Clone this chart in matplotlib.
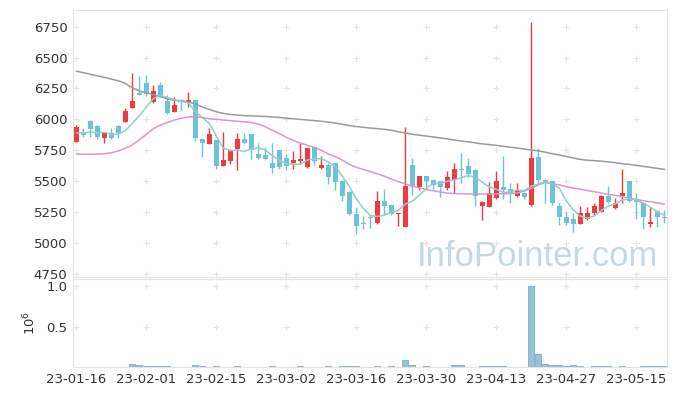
import matplotlib

matplotlib.use("Agg")
import matplotlib.pyplot as plt  # noqa: E402
import numpy as np  # noqa: E402
import pandas as pd  # noqa: E402

# ---- data (daily candles, 23-01-16 .. 23-05-19) ----
opens = [5820, 5890, 5990, 5945, 5852, 5892, 5946, 5981, 6095, 6211,
         6292, 6143, 6278, 6150, 6062, 6160, 6143, 6157, 5841, 5801,
         5830, 5623, 5663, 5760, 5839, 5882, 5718, 5712, 5650, 5752,
         5685, 5645, 5666, 5617, 5774, 5604, 5631, 5645, 5504, 5415,
         5235, 5160, 5210, 5159, 5340, 5307, 5232, 5132, 5631, 5455,
         5542, 5510, 5500, 5447, 5510, 5600, 5623, 5590, 5302, 5294,
         5361, 5451, 5434, 5380, 5407, 5305, 5698, 5510, 5502, 5299,
         5208, 5192, 5151, 5192, 5240, 5253, 5380, 5281, 5383, 5502,
         5353, 5326, 5151, 5261, 5213]
highs = [5955, 5930, 5995, 5955, 5900, 5928, 5955, 6090, 6373, 6350,
         6360, 6278, 6300, 6195, 6180, 6165, 6225, 6160, 5845, 5930,
         5835, 5900, 5760, 5887, 5887, 5885, 5807, 5780, 5807, 5755,
         5720, 5747, 5807, 5770, 5780, 5700, 5650, 5650, 5510, 5420,
         5290, 5220, 5225, 5423, 5434, 5310, 5245, 5941, 5685, 5545,
         5545, 5515, 5505, 5580, 5645, 5726, 5685, 5595, 5340, 5496,
         5585, 5704, 5483, 5488, 5410, 6785, 5766, 5515, 5505, 5326,
         5253, 5240, 5299, 5294, 5326, 5385, 5461, 5361, 5596, 5505,
         5407, 5330, 5294, 5265, 5267]
lows = [5815, 5860, 5860, 5840, 5806, 5845, 5847, 5975, 6090, 6195,
        6189, 6135, 6180, 6045, 6057, 6080, 6103, 5825, 5693, 5800,
        5596, 5620, 5640, 5590, 5800, 5677, 5677, 5670, 5564, 5600,
        5590, 5596, 5640, 5610, 5631, 5595, 5480, 5430, 5340, 5230,
        5070, 5115, 5120, 5154, 5226, 5225, 5138, 5127, 5390, 5430,
        5434, 5440, 5375, 5430, 5407, 5483, 5536, 5300, 5186, 5290,
        5355, 5353, 5326, 5375, 5360, 5300, 5485, 5326, 5305, 5146,
        5146, 5091, 5150, 5185, 5230, 5250, 5320, 5278, 5321, 5335,
        5192, 5111, 5132, 5132, 5160]
closes = [5940, 5875, 5920, 5855, 5887, 5852, 5892, 6068, 6146, 6200,
          6203, 6230, 6197, 6050, 6116, 6140, 6157, 5852, 5806, 5882,
          5623, 5671, 5752, 5839, 5812, 5750, 5685, 5680, 5604, 5617,
          5620, 5671, 5680, 5768, 5660, 5631, 5536, 5496, 5380, 5235,
          5140, 5150, 5205, 5340, 5302, 5232, 5240, 5461, 5455, 5542,
          5502, 5470, 5450, 5536, 5596, 5592, 5556, 5380, 5334, 5402,
          5502, 5425, 5402, 5421, 5370, 5685, 5510, 5496, 5326, 5208,
          5164, 5151, 5240, 5240, 5299, 5380, 5334, 5326, 5402, 5342,
          5330, 5208, 5172, 5210, 5200]
prev_closes = [5880, 5870, 5890, 5870]          # the 4 sessions before the window (for MA5)

ma20 = [5720, 5718, 5718, 5720, 5722, 5730, 5745, 5766, 5795, 5835,
        5880, 5925, 5955, 5975, 5995, 6010, 6020, 6022, 6015, 6005,
        6000, 5995, 5990, 5985, 5980, 5975, 5962, 5940, 5912, 5885,
        5855, 5830, 5808, 5790, 5774, 5750, 5720, 5698, 5670, 5635,
        5612, 5595, 5578, 5560, 5540, 5518, 5496, 5478, 5461, 5445,
        5432, 5423, 5412, 5404, 5400, 5398, 5397, 5396, 5396, 5396,
        5397, 5398, 5400, 5405, 5420, 5442, 5470, 5490, 5480, 5470,
        5455, 5445, 5435, 5425, 5415, 5405, 5394, 5385, 5375, 5362,
        5352, 5342, 5334, 5325, 5315]
ma60 = [6390, 6378, 6365, 6352, 6340, 6326, 6312, 6290, 6255, 6230,
        6215, 6200, 6185, 6165, 6155, 6148, 6140, 6125, 6100, 6080,
        6062, 6048, 6040, 6035, 6030, 6028, 6026, 6024, 6020, 6015,
        6010, 6005, 6000, 5995, 5990, 5985, 5978, 5970, 5960, 5950,
        5942, 5936, 5930, 5925, 5920, 5912, 5900, 5890, 5880, 5872,
        5865, 5858, 5850, 5842, 5833, 5825, 5818, 5810, 5802, 5796,
        5790, 5782, 5775, 5768, 5760, 5752, 5745, 5735, 5722, 5712,
        5700, 5688, 5676, 5670, 5666, 5662, 5656, 5650, 5642, 5636,
        5628, 5620, 5612, 5604, 5596]

volume_k = [2, 6, 2, 2, 2, 2, 2, 5, 35, 25,
            8, 8, 8, 8, 2, 2, 2, 25, 10, 2,
            8, 2, 2, 8, 2, 2, 2, 2, 8, 2,
            2, 2, 8, 2, 2, 2, 8, 2, 8, 8,
            8, 2, 2, 8, 2, 8, 2, 90, 25, 2,
            8, 2, 2, 2, 25, 25, 2, 2, 8, 8,
            8, 8, 2, 2, 2, 1000, 160, 40, 28, 28,
            15, 25, 12, 2, 8, 8, 8, 2, 8, 2,
            2, 8, 8, 8, 8]                          # thousands of shares

tick_labels = ["23-01-16", "23-02-01", "23-02-15", "23-03-02", "23-03-16",
               "23-03-30", "23-04-13", "23-04-27", "23-05-15"]

_UP, _DOWN = "#ee3b3f", "#6cc3d7"
_MA5, _MA20, _MA60 = "#8fcfc8", "#d39acd", "#9a9a9a"
_GRID = "#e4e4e4"
_TXT = "#333333"

n = len(closes)
x = np.arange(n)
o, h, lo, c = map(np.asarray, (opens, highs, lows, closes))
ma5 = pd.Series(prev_closes + closes).rolling(5).mean().to_numpy()[len(prev_closes):]
up = c >= o
colors = np.where(up, _UP, _DOWN)

fig = plt.figure(figsize=(6.77, 3.96), dpi=100)
ax = fig.add_axes([73 / 677, 1 - 277 / 396, 594 / 677, 267 / 396])
axv = fig.add_axes([73 / 677, 1 - 367 / 396, 594 / 677, 88 / 396], sharex=ax)

tick_pos = np.arange(0, 81, 10)
price_ticks = np.arange(4750, 6751, 250)

# grid as small crosses, like the reference
gx, gy = np.meshgrid(tick_pos, price_ticks)
ax.scatter(gx.ravel(), gy.ravel(), marker="+", s=18, color=_GRID, lw=0.8, zorder=0)
gx, gy = np.meshgrid(tick_pos, [0.5, 1.0])
axv.scatter(gx.ravel(), gy.ravel(), marker="+", s=18, color=_GRID, lw=0.8, zorder=0)

# candles
ax.vlines(x, lo, h, colors=colors, lw=1.0, zorder=2)
body = np.maximum(np.abs(c - o), 6)
ax.bar(x, body, bottom=np.minimum(o, c), width=0.72, color=colors, lw=0, zorder=3)

# moving averages
ax.plot(x, ma60, color=_MA60, lw=1.1, zorder=4)
ax.plot(x, ma20, color=_MA20, lw=1.1, zorder=4)
ax.plot(x, ma5, color=_MA5, lw=1.1, zorder=4)

# volume
vol = np.asarray(volume_k) / 1000.0
axv.bar(x, vol, width=0.85, color="#95c3d3", edgecolor="#78aec3", lw=0.6, zorder=2)

ax.set_xlim(-0.5, 84.4)
ax.set_ylim(4725, 6885)
ax.set_yticks(price_ticks)
axv.set_ylim(0, 1.0875)
axv.set_yticks([0.5, 1.0])
axv.set_yticklabels(["0.5", "1.0"])
axv.set_ylabel(r"$10^6$", fontsize=9.5, color=_TXT, labelpad=6)
axv.set_xticks(tick_pos)
axv.set_xticklabels(tick_labels)
ax.tick_params(axis="x", labelbottom=False, length=0)

for a in (ax, axv):
    a.tick_params(length=0, labelsize=9.5, labelcolor=_TXT, pad=4)
    for s in a.spines.values():
        s.set_color("#e3e3e3")
        s.set_linewidth(0.8)
    a.set_facecolor("white")

fig.text(537 / 677, 1 - 256 / 396, "InfoPointer.com", fontsize=25, color="#c5d9e4",
         family=["Liberation Sans", "DejaVu Sans"], ha="center", va="center", zorder=1)

fig.savefig("out.png", dpi=100)
plt.close(fig)
